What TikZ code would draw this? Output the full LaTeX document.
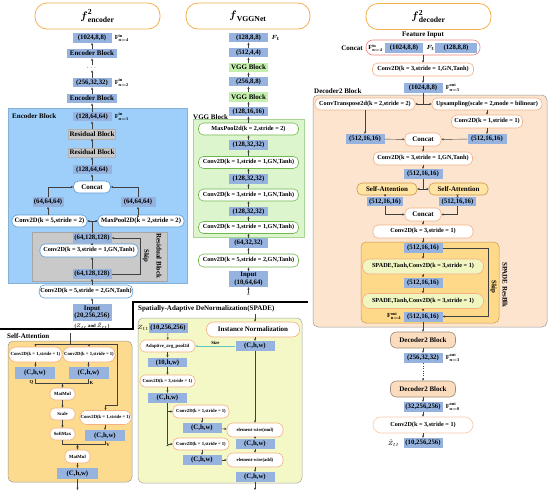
\documentclass[tikz,border=0pt]{standalone}
\usepackage{amsmath}
\usepackage{amssymb}
\usepackage{fontspec}
\setmainfont{Liberation Serif}
\usepackage{tikz}
\usetikzlibrary{calc,positioning,shapes,arrows.meta,backgrounds}

\definecolor{tensorblue}{HTML}{95B3DE}
\definecolor{encblue}{HTML}{9ECFFA}
\definecolor{encline}{HTML}{5B9BD5}
\definecolor{resreg}{RGB}{201,201,201}
\definecolor{vggreg}{HTML}{DCF5CC}
\definecolor{vggbox}{HTML}{C4EFAE}
\definecolor{vggline}{HTML}{70B84E}
\definecolor{sareg}{HTML}{FDDB8E}
\definecolor{spreg}{HTML}{F4F8C6}
\definecolor{decreg}{HTML}{FCE4CF}
\definecolor{blkreg}{HTML}{FFD98A}
\definecolor{pillorange}{HTML}{F4B183}
\definecolor{titleorange}{HTML}{F5B04E}
\definecolor{catred}{HTML}{F08080}
\definecolor{safill}{HTML}{FFE4A4}
\definecolor{saline}{HTML}{C99A4A}
\definecolor{dbfill}{HTML}{FBDCBE}
\definecolor{dbline}{HTML}{A08A74}
\definecolor{spfill}{HTML}{F1F6C0}
\definecolor{sizeteal}{HTML}{5CC8C0}

\newcommand{\tfont}{\fontsize{6.8}{7.5}\selectfont\bfseries}
\newcommand{\pfont}{\fontsize{6.2}{7}\selectfont\bfseries}
\newcommand{\sfont}{\fontsize{4.7}{5.5}\selectfont\bfseries}
\newcommand{\bfont}{\fontsize{7}{8}\selectfont\bfseries}
\newcommand{\Fin}[1]{$\mathbf{F}^{\mathbf{in}}_{\mathbf{n=#1}}$}
\newcommand{\Fout}[1]{$\mathbf{F}^{\mathbf{out}}_{\mathbf{n=#1}}$}

\tikzset{
	tensor/.style={fill=tensorblue, minimum width=39pt, minimum height=9.5pt, inner sep=1pt, font=\tfont},
	pill/.style={draw=#1, fill=white, rounded corners=5pt, minimum height=12pt, inner sep=1pt, line width=0.6pt, font=\pfont},
	pill/.default=pillorange,
	sapill/.style={pill=saline, fill=safill, minimum height=12pt, font=\bfont},
	dbpill/.style={pill=dbline, fill=dbfill, minimum width=65pt, minimum height=16pt, rounded corners=6pt, font=\bfont},
	sppill/.style={pill=pillorange, fill=spfill, minimum width=121pt, minimum height=15pt, rounded corners=7pt},
	resblock/.style={fill=resreg, draw=black!30, line width=0.3pt, minimum width=47pt, minimum height=9.5pt, inner sep=1pt, font=\bfont},
	vggblock/.style={fill=vggbox, minimum width=39pt, minimum height=9.5pt, inner sep=1pt, font=\bfont},
	titlebox/.style={draw=titleorange, line width=0.8pt, fill=white, rounded corners=12pt, minimum width=125pt, minimum height=26pt, font=\fontsize{11}{12}\selectfont},
	flabel/.style={font=\fontsize{6.2}{7}\selectfont, inner sep=0pt},
	flow/.style={->, draw=black!75, line width=0.45pt},
	wire/.style={draw=black!75, line width=0.45pt},
}

\begin{document}
\begin{tikzpicture}[x=1pt,y=-1pt,>={Stealth[length=2.4pt,width=2.2pt]}]
		\fill[white] (0,0) rectangle (550,491);
		\useasboundingbox (0,0) rectangle (550,491);

		% background regions
		\filldraw[fill=encblue, draw=encblue!85!black, line width=0.4pt] (8,108) rectangle (187,283);
		\filldraw[fill=resreg, draw=black!35, line width=0.4pt] (32,232) rectangle (167,281);
		\filldraw[fill=vggreg, draw=vggline!60, line width=0.4pt] (193,119) rectangle (304,237);
		\filldraw[fill=sareg, draw=black!40, rounded corners=5pt, line width=0.5pt] (8,341) rectangle (132,482);
		\filldraw[fill=spreg, draw=black!35, rounded corners=5pt, line width=0.5pt] (138,318) rectangle (302,483);
		\filldraw[fill=decreg, draw=black!40, rounded corners=5pt, line width=0.5pt] (313,95) rectangle (547,327);
		\filldraw[fill=blkreg, draw=saline, rounded corners=5pt, line width=0.5pt] (361,242) rectangle (499,323);
		\draw[line width=1.3pt] (0,329) -- (133,329) -- (133,302) -- (308,302);

		% encoder
		\node (tenc) [titlebox] at (97.5,16) {$\boldsymbol{f}^{\mathbf{2}}_{\mathbf{encoder}}$};
		\node (e1) [tensor] at (92,38) {(1024,8,8)};
		\node (e1l) [right=3pt of e1, flabel] {\Fin{4}};
		\node (eb2) [tensor, minimum width=50pt, font=\bfont] at (92,53.5) {Encoder Block};
		\node (edots) [font=\tfont, inner sep=1pt] at (92,67.5) {$\cdots$};
		\node (e2) [tensor] at (92,82.5) {(256,32,32)};
		\node (e2l) [right=3pt of e2, flabel] {\Fin{2}};
		\node (eb1) [tensor, minimum width=50pt, font=\bfont] at (92,98.5) {Encoder Block};
		\node (encl) [anchor=west, font=\bfont, inner sep=1pt] at (11,116) {Encoder Block};
		\node (e3) [tensor] at (92,116.5) {(128,64,64)};
		\node (e3l) [right=3pt of e3, flabel] {\Fin{1}};
		\node (rb2) [resblock] at (92,134) {Residual Block};
		\node (rb1) [resblock] at (92,152.5) {Residual Block};
		\node (e4) [tensor] at (92,169.5) {(128,64,64)};
		\node (ecat) [pill=encline, minimum width=37pt, font=\bfont] at (92,187) {Concat};
		\node (e5l) [tensor, minimum width=31pt] at (48,202) {(64,64,64)};
		\node (e5r) [tensor, minimum width=35pt] at (138,202) {(64,64,64)};
		\node (econv5) [pill=encline, minimum width=75pt, font=\fontsize{6.6}{7}\selectfont\bfseries] at (49.5,221) {Conv2D(k = 5,stride = 2)};
		\node (epool) [pill=encline, minimum width=86pt, font=\fontsize{6.6}{7}\selectfont\bfseries] at (141,221) {MaxPool2D(k = 2,stride = 2)};
		\coordinate (esplit) at (92,221);
		\node (e6) [tensor] at (92,238) {(64,128,128)};
		\node (econv3) [pill=encline, minimum width=98pt, minimum height=13pt] at (89,250.5) {Conv2D(k = 3,stride = 1,GN,Tanh)};
		\node (e7) [tensor] at (92,274) {(64,128,128)};
		\node (eskip) [rotate=-90, font=\tfont, inner sep=0pt] at (146,256) {Skip};
		\node (resl) [rotate=-90, font=\bfont, inner sep=0pt] at (159,256) {Residual Block};
		\node (econvin) [pill=encline, minimum width=92pt, minimum height=13pt] at (86,291.5) {Conv2D(k = 5,stride = 2,GN,Tanh)};
		\node (einp) [tensor, minimum height=17pt, align=center, font=\fontsize{6.8}{7.6}\selectfont\bfseries] at (92,312.5) {Input\\(20,256,256)};
		\node (ez) [font=\sfont, inner sep=0pt] at (92,326) {($Z_{tt}$ and $\tilde{Z}_{tt}$)};

		\path[flow]
			(einp) edge (einp |- econvin.south)
			(econvin.north -| e7) edge (e7)
			(e7) edge (e7 |- econv3.south)
			(econv3.north -| e6) edge (e6)
			(esplit) edge (econv5)
			(esplit) edge (epool)
			(econv5.north -| e5l) edge (e5l)
			(epool.north -| e5r) edge (e5r)
			(ecat) edge (e4)
			(e4) edge (rb1)
			(rb1) edge (rb2)
			(rb2) edge (e3)
			(e3) edge (eb1)
			(eb1) edge (e2)
			(e2) edge (edots)
			(edots) edge (eb2)
			(eb2) edge (e1);
		\draw[wire] (e6) -- (esplit);
		\draw[flow] (e5l) |- (ecat);
		\draw[flow] (e5r) |- (ecat);
		\draw[flow] (e7.east) -- (140,274) |- (e6.east);

		% vgg
		\node (tvgg) [titlebox, minimum width=124pt] at (248,16) {$\boldsymbol{f}_{\mathbf{VGGNet}}$};
		\node (v1) [tensor] at (248.5,37.5) {(128,8,8)};
		\node (v1l) [right=3pt of v1, flabel] {$\boldsymbol{F_t}$};
		\node (v2) [tensor] at (248.5,52.5) {(512,4,4)};
		\node (vb2) [vggblock] at (248.5,67.5) {VGG Block};
		\node (v3) [tensor] at (248.5,81.5) {(256,8,8)};
		\node (vb1) [vggblock] at (248.5,97) {VGG Block};
		\node (v4) [tensor] at (248.5,111.5) {(128,16,16)};
		\node (vggl) [anchor=south west, font=\bfont, inner sep=1pt] at (192,121) {VGG Block};
		\node (vmp) [pill=vggline, minimum width=100pt] at (248.5,129) {MaxPool2d(k = 2,stride = 2)};
		\node (v5) [tensor] at (248.5,145) {(128,32,32)};
		\node (vc1) [pill=vggline, minimum width=100pt] at (248.5,162.5) {Conv2D(k = 1,stride = 1,GN,Tanh)};
		\node (v6) [tensor] at (248.5,179) {(128,32,32)};
		\node (vc2) [pill=vggline, minimum width=100pt] at (248.5,195) {Conv2D(k = 3,stride = 1,GN,Tanh)};
		\node (v7) [tensor] at (248.5,211.5) {(128,32,32)};
		\node (vc3) [pill=vggline, minimum width=100pt] at (248.5,227.5) {Conv2D(k = 3,stride = 1,GN,Tanh)};
		\node (v8) [tensor] at (248.5,243) {(64,32,32)};
		\node (vc4) [pill=vggline, minimum width=100pt, minimum height=13pt] at (248.5,260.5) {Conv2D(k = 5,stride = 2,GN,Tanh)};
		\node (vin) [tensor, minimum height=16pt, align=center, font=\fontsize{6.8}{7.6}\selectfont\bfseries] at (248.5,279) {Input\\(10,64,64)};
		\node (vz) [font=\sfont, inner sep=0pt] at (248.5,294) {$z$};

		\path[flow]
			(vz) edge (vin)
			(vin) edge (vc4)
			(vc4) edge (v8)
			(v8) edge (vc3)
			(vc3) edge (v7)
			(v7) edge (vc2)
			(vc2) edge (v6)
			(v6) edge (vc1)
			(vc1) edge (v5)
			(v5) edge (vmp)
			(vmp) edge (v4)
			(v4) edge (vb1)
			(vb1) edge (v3)
			(v3) edge (vb2)
			(vb2) edge (v2)
			(v2) edge (v1);

		% spade
		\node (spl) [anchor=west, font=\bfont, inner sep=1pt] at (137,309) {Spatially-Adaptive DeNormalization(SPADE)};
		\node (zin) [flabel] at (143,328) {$Z_{tt}$};
		\node (sz) [tensor, minimum height=10pt] at (168,328) {(10,256,256)};
		\node (inorm) [pill, minimum width=93pt, minimum height=15pt, rounded corners=7pt, font=\bfont] at (253,329.5) {Instance Normalization};
		\node (avg) [pill, minimum width=55pt, font=\sfont] at (167.5,346) {Adaptive\_avg\_pool2d};
		\node (s1) [tensor, minimum height=10pt] at (255,346) {(C,h,w)};
		\node (s2) [tensor] at (167.5,362.5) {(10,h,w)};
		\node (sc3) [pill, minimum width=55pt, font=\sfont] at (167.5,381) {Conv2D(k = 3,stride = 1)};
		\node (s3) [tensor, minimum height=10pt] at (167.5,398) {(C,h,w)};
		\node (sc1a) [pill, minimum width=56pt, minimum height=13pt, font=\sfont] at (201,411.5) {Conv2D(k = 1,stride = 1)};
		\node (s4) [tensor, minimum height=10pt] at (202,428) {(C,h,w)};
		\node (smul) [pill, minimum width=56pt, minimum height=14pt, rounded corners=6pt, font=\sfont] at (255,430) {element-wise(mul)};
		\node (s5) [tensor, minimum height=10pt] at (255,444) {(C,h,w)};
		\node (sc1b) [pill, minimum width=56pt, font=\sfont] at (201,444) {Conv2D(k = 1,stride = 1)};
		\node (s6) [tensor, minimum height=10pt] at (202,460) {(C,h,w)};
		\node (sadd) [pill, minimum width=56pt, minimum height=14pt, rounded corners=6pt, font=\sfont] at (255,460) {element-wise(add)};
		\node (s7) [tensor, minimum height=10pt] at (255,477) {(C,h,w)};
		\coordinate (spin) at (255,314);
		\coordinate (sout) at (255,490);

		\path[flow]
			(spin) edge (spin |- inorm.north)
			(sz) edge (avg)
			(avg) edge (s2)
			(s2) edge (sc3)
			(sc3) edge (s3)
			(inorm.south -| s1) edge (s1)
			(s1) edge (smul)
			(smul) edge (s5)
			(s5) edge (sadd)
			(sadd) edge (s7)
			(s7) edge (sout)
			(sc1a.south -| s4) edge (s4)
			(s4) edge (smul)
			(sc1b.south -| s6) edge (s6)
			(s6) edge (sadd)
			(s3.south |- sc1a) edge (sc1a)
			(s3.south |- sc1b) edge (sc1b);
		\draw[wire] (s3) -- (s3.south |- sc1b);
		\draw[->, draw=sizeteal, line width=0.6pt] (s1) -- (avg) node (sizel) [midway, above, font=\sfont, text=black, inner sep=1pt] {Size};

		% self-attention
		\node (sal) [anchor=west, font=\bfont, inner sep=1pt] at (6,336) {Self-Attention};
		\coordinate (sain) at (70,333);
		\coordinate (sajn) at (70,344);
		\coordinate (sabr) at (117,344);
		\node (qconv) [pill, minimum width=53pt, minimum height=15pt, rounded corners=7pt, font=\sfont] at (35.5,354.5) {Conv2D(k = 1,stride = 1)};
		\node (kconv) [pill, minimum width=52pt, minimum height=15pt, rounded corners=7pt, font=\sfont] at (89,354.5) {Conv2D(k = 1,stride = 1)};
		\node (qbox) [tensor, minimum width=40pt, minimum height=12pt] at (35,373) {(C,h,w)};
		\node (kbox) [tensor, minimum width=40pt, minimum height=12pt] at (88.5,373) {(C,h,w)};
		\node (ql) [font=\sfont, inner sep=0pt] at (31.5,382.5) {Q};
		\node (kl) [font=\sfont, inner sep=0pt] at (91.5,382.5) {K};
		\coordinate (qkjn) at (62.5,383);
		\node (mm1) [pill, minimum width=25pt, font=\sfont] at (62.5,394) {MatMul};
		\node (scl) [pill, minimum width=25pt, font=\sfont] at (62.5,414) {Scale};
		\node (smx) [pill, minimum width=25pt, font=\sfont] at (62.5,434) {SoftMax};
		\node (vconv) [pill, minimum width=51pt, minimum height=14pt, rounded corners=7pt, font=\sfont] at (105.5,417.5) {Conv2D(k = 1,stride = 1)};
		\node (vbox) [tensor, minimum width=40pt, minimum height=11pt] at (105,435.5) {(C,h,w)};
		\node (vl) [font=\sfont, inner sep=0pt] at (108,444.5) {V};
		\coordinate (svjn) at (77.5,444.5);
		\node (mm2) [pill, minimum width=25pt, minimum height=13pt, font=\sfont] at (77.5,456.5) {MatMul};
		\node (obox) [tensor, minimum width=41pt, minimum height=11pt] at (77.5,473.5) {(C,h,w)};
		\coordinate (saout) at (77.5,490);

		\draw[wire] (sain) -- (sajn);
		\draw[wire] (qconv.north |- sajn) -- (sabr);
		\draw[flow] (sabr) -- (117,405) -| (vconv.north);
		\path[flow]
			(qconv.north |- sajn) edge (qconv)
			(kconv.north |- sajn) edge (kconv)
			(qconv) edge (qconv |- qbox.north)
			(kconv.south -| kbox) edge (kbox)
			(qkjn) edge (mm1)
			(mm1) edge (scl)
			(scl) edge (smx)
			(vconv.south -| vbox) edge (vbox)
			(svjn) edge (mm2)
			(mm2) edge (obox)
			(obox) edge (saout);
		\draw[wire] (qbox) |- (qkjn);
		\draw[wire] (kbox) |- (qkjn);
		\draw[wire] (smx) |- (svjn);
		\draw[wire] (vbox) |- (svjn);

		% decoder
		\node (tdec) [titlebox] at (428.5,16.5) {$\boldsymbol{f}^{\mathbf{2}}_{\mathbf{decoder}}$};
		\node (finl) [font=\bfont, inner sep=1pt] at (423,35) {Feature Input};
		\node (dcat0) [pill=catred, minimum width=114pt, minimum height=15pt, rounded corners=7pt] at (423,47.5) {};
		\node (dconcl) [anchor=east, font=\bfont, inner sep=1pt] at (364,48) {Concat};
		\node (dfin) [flabel] at (375.5,48) {\Fin{4}};
		\node (d0a) [tensor, minimum width=38pt, minimum height=10pt] at (404,48) {(1024,8,8)};
		\node (dft) [flabel] at (430.5,48) {$\boldsymbol{F_t}$};
		\node (d0b) [tensor, minimum width=42pt, minimum height=10pt] at (456,48) {(128,8,8)};
		\node (dconv0) [pill, minimum width=101pt, minimum height=13pt] at (423,69.5) {Conv2D(k = 3,stride = 1,GN,Tanh)};
		\node (d1) [tensor, minimum height=10pt] at (423,88) {(1024,8,8)};
		\node (d1l) [right=3pt of d1, flabel] {\Fout{5}};
		\node (decl) [anchor=south west, font=\bfont, inner sep=1pt] at (313,95) {Decoder2 Block};
		\coordinate (dsplit) at (423,104);
		\node (dct) [pill, minimum width=100pt] at (365,104) {ConvTranspose2d(k = 2,stride = 2)};
		\node (dup) [pill, minimum width=110pt] at (487,104) {Upsampling(scale = 2,mode = bilinear)};
		\node (dc1) [pill, minimum width=71pt, minimum height=13pt] at (487,121.5) {Conv2D(k = 1,stride = 1)};
		\node (d2l) [tensor, minimum height=10pt] at (365,139) {(512,16,16)};
		\node (dcat1) [pill, minimum width=36pt, minimum height=13pt, font=\bfont] at (423,139.5) {Concat};
		\node (d2r) [tensor, minimum height=10pt] at (487,139) {(512,16,16)};
		\node (dconv1) [pill, minimum width=99pt, minimum height=13pt] at (423,158.5) {Conv2D(k = 3,stride = 1,GN,Tanh)};
		\node (d3) [tensor, minimum height=10pt] at (423,174) {(512,16,16)};
		\coordinate (dsajn) at (423,189);
		\node (dsa1) [sapill, minimum width=60pt] at (387,189) {Self-Attention};
		\node (dsa2) [sapill, minimum width=59pt] at (458.5,189) {Self-Attention};
		\node (d4l) [tensor, minimum width=36pt] at (385,201.5) {(512,16,16)};
		\node (d4r) [tensor, minimum width=37pt] at (457.5,201.5) {(512,16,16)};
		\node (dcat2) [pill, minimum width=36pt, minimum height=13pt, font=\bfont] at (423,214.5) {Concat};
		\node (dconv2) [pill, minimum width=100pt, minimum height=13pt] at (423,231.5) {Conv2D(k = 3,stride = 1)};
		\node (d5) [tensor, minimum height=10pt] at (423,248) {(512,16,16)};
		\node (dsp1) [sppill] at (423,266.5) {SPADE,Tanh,Conv2D(k = 3,stride = 1)};
		\node (d6) [tensor, minimum height=10pt] at (423,282.5) {(512,16,16)};
		\node (dsp2) [sppill] at (423,301) {SPADE,Tanh,Conv2D(k = 3,stride = 1)};
		\node (d7) [tensor, minimum height=10pt] at (423,316.5) {(512,16,16)};
		\node (d7l) [left=2pt of d7, flabel] {\Fout{4}};
		\node (dskipl) [rotate=-90, font=\tfont, inner sep=0pt] at (493.5,287) {Skip};
		\node (resbl) [rotate=-90, font=\bfont, inner sep=0pt] at (505,285) {SPADE ResBlk};
		\node (db1) [dbpill] at (423,340) {Decoder2 Block};
		\node (d8) [tensor, minimum height=10pt] at (423,358) {(256,32,32)};
		\node (d8l) [right=3pt of d8, flabel] {\Fout{3}};
		\node (db2) [dbpill] at (423,389) {Decoder2 Block};
		\node (d9) [tensor, minimum height=10pt] at (423,407) {(32,256,256)};
		\node (d9l) [right=3pt of d9, flabel] {\Fout{0}};
		\node (dconv3) [pill=pillorange!70, minimum width=100pt, minimum height=16pt, rounded corners=8pt] at (423,425) {Conv2D(k = 3,stride = 1)};
		\node (d10) [tensor, minimum height=10pt] at (423,443) {(10,256,256)};
		\node (d10l) [left=4pt of d10, flabel] {$\hat{Z}_{tt}$};

		\path[flow]
			(dcat0) edge (dconv0)
			(dconv0) edge (d1)
			(dsplit) edge (dct)
			(dsplit) edge (dup)
			(dct) edge (d2l)
			(dup) edge (dc1)
			(dc1) edge (d2r)
			(d2l) edge (dcat1)
			(d2r) edge (dcat1)
			(dcat1) edge (dconv1)
			(dconv1) edge (d3)
			(dsajn) edge (dsa1)
			(dsajn) edge (dsa2)
			(dsa1.south -| d4l) edge (d4l)
			(dsa2.south -| d4r) edge (d4r)
			(dcat2) edge (dconv2)
			(dconv2) edge (d5)
			(d5) edge (dsp1)
			(dsp1) edge (d6)
			(d6) edge (dsp2)
			(dsp2) edge (d7)
			(d7) edge (db1)
			(db1) edge (d8)
			(db2) edge (d9)
			(d9) edge (dconv3)
			(dconv3) edge (d10);
		\draw[wire] (d1) -- (dsplit);
		\draw[wire] (d3) -- (dsajn);
		\draw[flow] (d4l) |- (dcat2);
		\draw[flow] (d4r) |- (dcat2);
		\draw[flow] (d5.east) -- (488,248) |- (d7.east);
		\draw[flow, dotted] (d8) -- (db2);
	\end{tikzpicture}
\end{document}
